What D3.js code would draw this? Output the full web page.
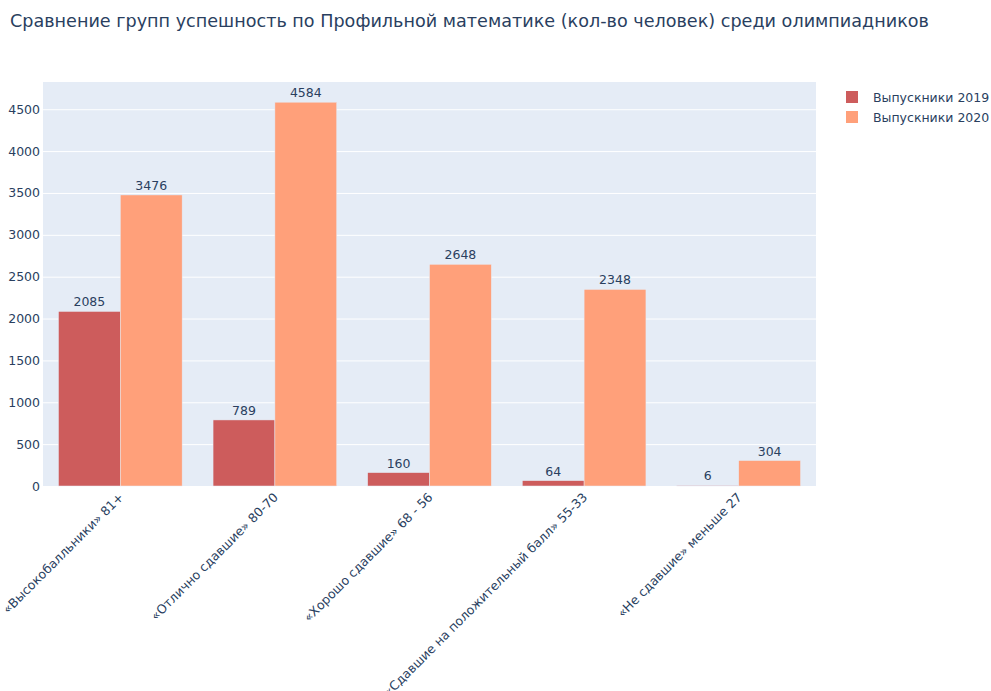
<!DOCTYPE html>
<html>
<head>
<meta charset="utf-8">
<script src="https://cdn.jsdelivr.net/npm/d3@7"></script>
<style>
  html, body { margin: 0; padding: 0; background: #fff; }
  svg { display: block; }
  svg text { font-family: "DejaVu Sans", Verdana, sans-serif; }
</style>
</head>
<body>
<svg id="chart" width="991" height="691"></svg>
<script>
// Result groups (profile mathematics) and counts of olympiad participants
const categories = [
  "«Высокобалльники» 81+",
  "«Отлично сдавшие» 80-70",
  "«Хорошо сдавшие» 68 - 56",
  "«Сдавшие на положительный балл» 55-33",
  "«Не сдавшие» меньше 27"
];
const seriesNames = ["Выпускники 2019", "Выпускники 2020"];
const values2019 = [2085, 789, 160, 64, 6];
const values2020 = [3476, 4584, 2648, 2348, 304];
const yTicks = [0, 500, 1000, 1500, 2000, 2500, 3000, 3500, 4000, 4500];
const titleText = "Сравнение групп успешность по Профильной математике (кол-во человек) среди олимпиадников";

const colors = ["#CD5C5C", "#FFA07A"];
const textColor = "#2a3f5f";
const fontSize = "12.5px";

const svg = d3.select("#chart");
const margin = { left: 43, top: 82, right: 175, bottom: 205 };
const W = 991, H = 691;
const plotW = W - margin.left - margin.right;
const plotH = H - margin.top - margin.bottom;

const series = [values2019, values2020];
const yMax = d3.max(series.flat()) * 1.0526;

const x = d3.scaleBand().domain(categories).range([0, plotW]).paddingInner(0.2).paddingOuter(0.1);
const xi = d3.scaleBand().domain(seriesNames).range([0, x.bandwidth()]);
const y = d3.scaleLinear().domain([0, yMax]).range([plotH, 0]);

// title
svg.append("text")
  .attr("x", 10).attr("y", 27)
  .attr("fill", textColor)
  .style("font-size", "17.6px")
  .text(titleText);

const g = svg.append("g").attr("transform", `translate(${margin.left},${margin.top})`);

// plot background
g.append("rect").attr("width", plotW).attr("height", plotH).attr("fill", "#E5ECF6");

// grid + y axis
const yAxis = d3.axisLeft(y).tickValues(yTicks).tickSize(-plotW).tickFormat(d3.format("d"));
const yg = g.append("g").call(yAxis);
yg.select(".domain").remove();
yg.selectAll(".tick line").attr("stroke", "#fff").attr("stroke-width", 1);
yg.selectAll(".tick text").attr("fill", textColor).attr("x", -3).style("font-size", fontSize);

// bars
series.forEach((vals, si) => {
  const bg = g.append("g");
  bg.selectAll("rect").data(vals).join("rect")
    .attr("x", (d, i) => x(categories[i]) + xi(seriesNames[si]))
    .attr("y", d => y(d))
    .attr("width", xi.bandwidth())
    .attr("height", d => plotH - y(d))
    .attr("fill", colors[si])
    .attr("stroke", "#E5ECF6")
    .attr("stroke-width", 0.5);
  bg.selectAll("text").data(vals).join("text")
    .attr("x", (d, i) => x(categories[i]) + xi(seriesNames[si]) + xi.bandwidth() / 2)
    .attr("y", d => y(d) - 5)
    .attr("text-anchor", "middle")
    .attr("fill", textColor)
    .style("font-size", fontSize)
    .text(d => d);
});

// x axis labels
const xAxis = d3.axisBottom(x).tickSize(0).tickPadding(0);
const xg = g.append("g").attr("transform", `translate(0,${plotH})`).call(xAxis);
xg.select(".domain").remove();
xg.selectAll(".tick text")
  .attr("fill", textColor)
  .style("font-size", fontSize)
  .attr("text-anchor", "end")
  .attr("dy", "0")
  .attr("transform", "translate(4,12) rotate(-45)");

// legend
const lg = svg.append("g").attr("transform", "translate(846,91)");
seriesNames.forEach((name, i) => {
  const row = lg.append("g").attr("transform", `translate(0,${i * 20})`);
  row.append("rect").attr("width", 12).attr("height", 12).attr("fill", colors[i]);
  row.append("text").attr("x", 27).attr("y", 10.5)
    .attr("fill", textColor).style("font-size", fontSize).text(name);
});
</script>
</body>
</html>
